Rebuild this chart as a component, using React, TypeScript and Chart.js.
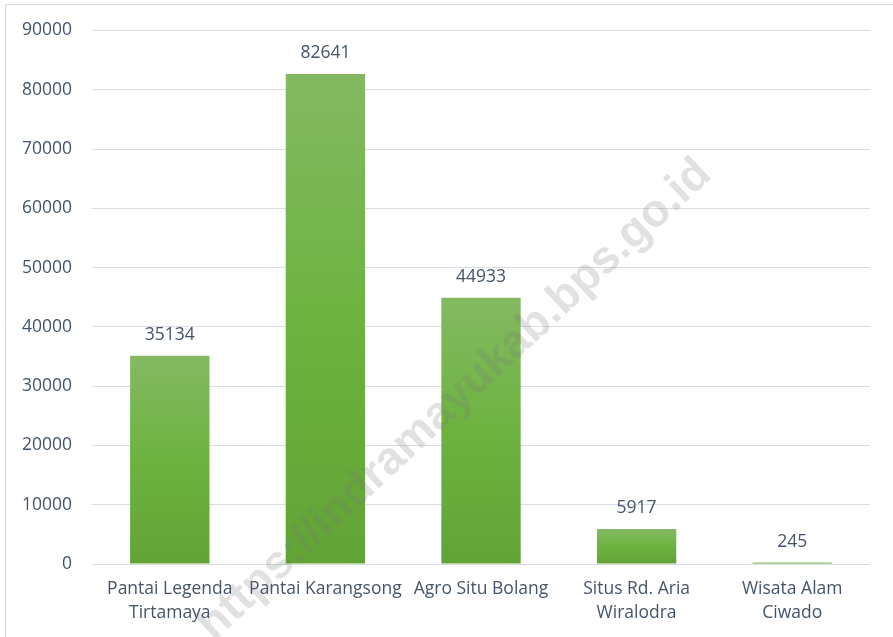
import React, { useEffect, useRef } from "react";
import { Chart, registerables } from "chart.js";

Chart.register(...registerables);

const categories: (string | string[])[] = [
  ["Pantai Legenda", "Tirtamaya"],
  "Pantai Karangsong",
  "Agro Situ Bolang",
  ["Situs Rd. Aria", "Wiralodra"],
  ["Wisata Alam", "Ciwado"],
];
const visitors: number[] = [35134, 82641, 44933, 5917, 245];
const watermarkText = "https://indramayukab.bps.go.id";

const TEXT_COLOR = "#44546A";
const FONT = "'Open Sans', 'Noto Sans', sans-serif";

export default function App() {
  const ref = useRef<HTMLCanvasElement | null>(null);

  useEffect(() => {
    document.body.style.margin = "0";
    const canvas = ref.current;
    if (!canvas) return;

    const framePlugin = {
      id: "frame",
      beforeDraw(chart: any) {
        const ctx = chart.ctx;
        ctx.save();
        ctx.fillStyle = "#ffffff";
        ctx.fillRect(0, 0, chart.width, chart.height);
        ctx.strokeStyle = "#d9d9d9";
        ctx.lineWidth = 1;
        ctx.beginPath();
        ctx.moveTo(5.5, chart.height);
        ctx.lineTo(5.5, 4.5);
        ctx.lineTo(chart.width, 4.5);
        ctx.stroke();
        ctx.restore();
      },
    };

    const labelPlugin = {
      id: "valueLabels",
      afterDatasetsDraw(chart: any) {
        const ctx = chart.ctx;
        const meta = chart.getDatasetMeta(0);
        ctx.save();
        ctx.font = `17.5px ${FONT}`;
        ctx.fillStyle = TEXT_COLOR;
        ctx.textAlign = "center";
        ctx.textBaseline = "middle";
        meta.data.forEach((el: any, i: number) => {
          ctx.fillText(String(visitors[i]), el.x, el.y - 21);
        });
        ctx.restore();
      },
    };

    const watermarkPlugin = {
      id: "watermark",
      afterDraw(chart: any) {
        const ctx = chart.ctx;
        ctx.save();
        ctx.translate(455, 400);
        ctx.rotate((-43 * Math.PI) / 180);
        ctx.font = `bold 46px 'Liberation Sans', Arial, sans-serif`;
        ctx.fillStyle = "rgba(120,120,120,0.22)";
        ctx.textAlign = "center";
        ctx.textBaseline = "middle";
        ctx.fillText(watermarkText, 0, 0);
        ctx.restore();
      },
    };

    const chart = new Chart(canvas, {
      type: "bar",
      data: {
        labels: categories,
        datasets: [
          {
            data: visitors,
            backgroundColor: (c: any) => {
              const ch = c.chart;
              if (!ch.chartArea || c.dataIndex === undefined) return "#70AD47";
              const y = ch.scales.y;
              const top = y.getPixelForValue(visitors[c.dataIndex]);
              const bottom = y.getPixelForValue(0);
              if (!isFinite(top) || !isFinite(bottom) || bottom - top < 1) return "#77b34f";
              const g = ch.ctx.createLinearGradient(0, top, 0, bottom);
              g.addColorStop(0, "#84b962");
              g.addColorStop(0.5, "#6db340");
              g.addColorStop(1, "#62a335");
              return g;
            },
            borderWidth: 0,
            barPercentage: 0.51,
            categoryPercentage: 1,
          },
        ],
      },
      options: {
        animation: false,
        responsive: true,
        maintainAspectRatio: false,
        layout: { padding: { top: 29, right: 23, left: 0, bottom: 0 } },
        plugins: {
          legend: { display: false },
          tooltip: { enabled: false },
          title: { display: false },
        },
        scales: {
          x: {
            grid: { display: false, drawTicks: false },
            border: { display: false },
            ticks: {
              color: TEXT_COLOR,
              font: { family: FONT, size: 17.5, lineHeight: 1.37 },
              padding: 13,
              maxRotation: 0,
              autoSkip: false,
            },
            afterFit: (s: any) => {
              s.height = 73;
            },
          },
          y: {
            min: 0,
            max: 90000,
            grid: { color: "#dadee4", lineWidth: 1, drawTicks: false },
            border: { display: false },
            ticks: {
              stepSize: 10000,
              color: TEXT_COLOR,
              font: { family: FONT, size: 17.5 },
              padding: 20,
              callback: (v: any) => String(v),
            },
            afterFit: (s: any) => {
              s.width = 92;
            },
          },
        },
      },
      plugins: [framePlugin, labelPlugin, watermarkPlugin],
    });

    return () => chart.destroy();
  }, []);

  return (
    <div style={{ width: 893, height: 637, position: "relative" }}>
      <canvas ref={ref} />
    </div>
  );
}
